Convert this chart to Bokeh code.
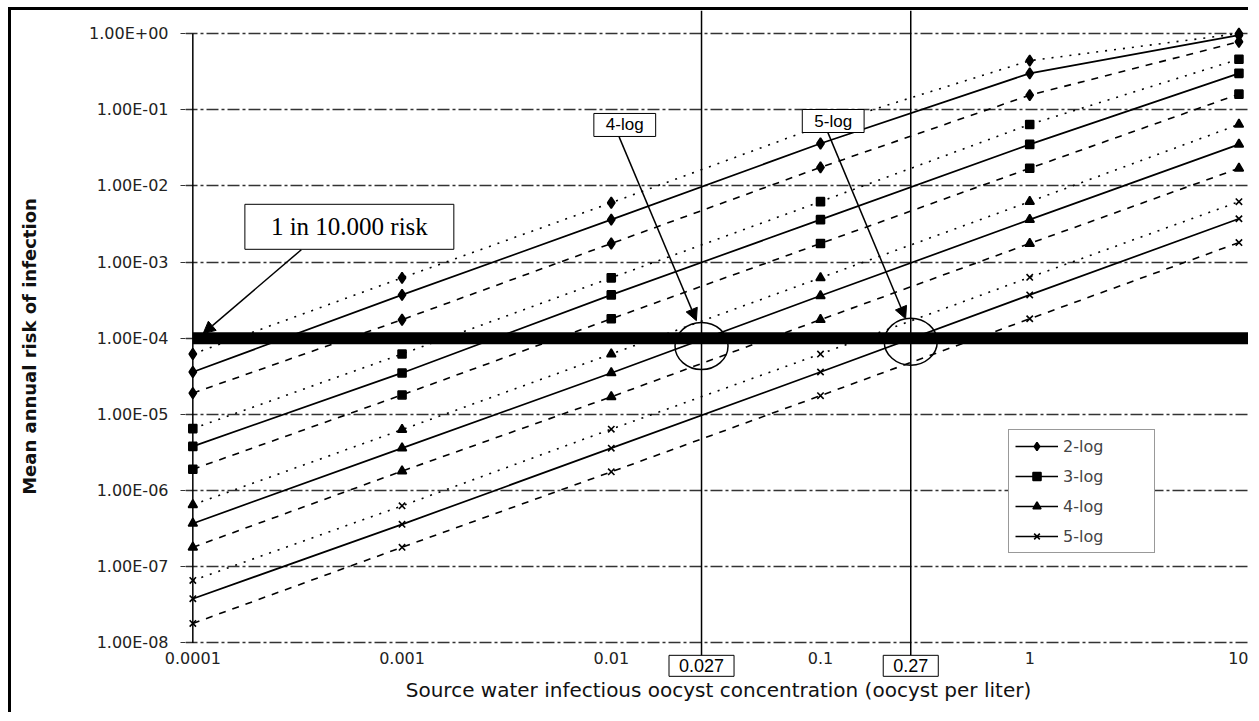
from bokeh.plotting import figure
from bokeh.models import (FixedTicker, CustomJSTickFormatter, Label, Arrow, NormalHead,
                          Legend, LegendItem, Range1d)
from bokeh.embed import file_html
from bokeh.resources import INLINE

# ---------------- data ----------------
conc = [0.0001, 0.001, 0.01, 0.1, 1, 10]          # oocyst per liter
series_names = ["2-log", "3-log", "4-log", "5-log"]

log2_upper = [6.2e-5, 6.2e-4, 6.0e-3, 6.1e-2, 0.44, 0.998]
log2_mean  = [3.6e-5, 3.7e-4, 3.6e-3, 3.6e-2, 0.30, 0.95]
log2_lower = [1.9e-5, 1.75e-4, 1.75e-3, 1.75e-2, 0.155, 0.78]

log3_upper = [6.5e-6, 6.2e-5, 6.2e-4, 6.2e-3, 6.4e-2, 0.46]
log3_mean  = [3.8e-6, 3.5e-5, 3.7e-4, 3.6e-3, 3.5e-2, 0.30]
log3_lower = [1.9e-6, 1.8e-5, 1.8e-4, 1.75e-3, 1.7e-2, 0.16]

log4_upper = [6.5e-7, 6.3e-6, 6.2e-5, 6.2e-4, 6.2e-3, 6.4e-2]
log4_mean  = [3.7e-7, 3.6e-6, 3.5e-5, 3.6e-4, 3.6e-3, 3.5e-2]
log4_lower = [1.8e-7, 1.8e-6, 1.7e-5, 1.75e-4, 1.75e-3, 1.7e-2]

log5_upper = [6.6e-8, 6.3e-7, 6.4e-6, 6.2e-5, 6.3e-4, 6.2e-3]
log5_mean  = [3.8e-8, 3.6e-7, 3.6e-6, 3.6e-5, 3.7e-4, 3.7e-3]
log5_lower = [1.8e-8, 1.8e-7, 1.76e-6, 1.76e-5, 1.8e-4, 1.8e-3]

x_ticks = [0.0001, 0.001, 0.01, 0.1, 1, 10]
x_tick_labels = ["0.0001", "0.001", "0.01", "0.1", "1", "10"]
y_ticks = [1.0, 0.1, 0.01, 0.001, 0.0001, 1e-05, 1e-06, 1e-07, 1e-08]
y_tick_labels = ["1.00E+00", "1.00E-01", "1.00E-02", "1.00E-03", "1.00E-04",
                 "1.00E-05", "1.00E-06", "1.00E-07", "1.00E-08"]

risk_threshold = 1e-4
threshold_label = "1 in 10.000 risk"
crossing_conc = [0.027, 0.27]
crossing_labels = ["0.027", "0.27"]
crossing_names = ["4-log", "5-log"]

groups = [
    (log2_upper, log2_mean, log2_lower, "diamond", 11),
    (log3_upper, log3_mean, log3_lower, "square", 8),
    (log4_upper, log4_mean, log4_lower, "triangle", 9),
    (log5_upper, log5_mean, log5_lower, "x", 9),
]

# ---------------- figure ----------------
p = figure(width=1240, height=705, x_axis_type="log", y_axis_type="log",
           x_range=Range1d(10 ** -4.035, 10 ** 1.06),
           y_range=Range1d(10 ** -8.52, 10 ** 0.302),
           output_backend="svg", toolbar_location=None,
           min_border_left=174, min_border_right=0, min_border_top=0,
           min_border_bottom=33)
p.styles = {"margin-left": "8px", "margin-top": "7px",
            "border-top": "3px solid black", "border-left": "3px solid black"}
p.outline_line_color = None
p.background_fill_color = "white"
p.border_fill_color = "white"

JS_PICK = """
let best = 0, bd = Infinity;
for (let i = 0; i < tvals.length; i++) {
  const d = Math.abs(Math.log10(tvals[i]) - Math.log10(tick));
  if (d < bd) { bd = d; best = i; }
}
return tlabels[best];
"""
p.xaxis.ticker = FixedTicker(ticks=x_ticks, minor_ticks=[])
p.yaxis.ticker = FixedTicker(ticks=y_ticks, minor_ticks=[])
p.xaxis.formatter = CustomJSTickFormatter(args=dict(tvals=x_ticks, tlabels=x_tick_labels), code=JS_PICK)
p.yaxis.formatter = CustomJSTickFormatter(args=dict(tvals=y_ticks, tlabels=y_tick_labels), code=JS_PICK)

for ax in (p.xaxis, p.yaxis):
    ax.axis_line_color = None
    ax.minor_tick_line_color = None
    ax.major_label_text_font = "DejaVu Sans"
    ax.major_label_text_font_size = "16px"
    ax.major_label_text_color = "#222222"
    ax.axis_label_text_font = "DejaVu Sans"
    ax.axis_label_text_font_style = "bold"
    ax.axis_label_text_color = "#111111"

p.yaxis.major_tick_out = 5
p.yaxis.major_tick_in = 0
p.yaxis.major_tick_line_color = "#333333"
p.yaxis.major_label_standoff = 12
p.yaxis.axis_label = "Mean annual risk of infection"
p.yaxis.axis_label_text_font_size = "18px"
p.yaxis.axis_label_standoff = 46

p.xaxis.major_tick_line_color = None
p.xaxis.major_tick_out = 0
p.xaxis.major_label_standoff = -31
p.xaxis.axis_label = "Source water infectious oocyst concentration (oocyst per liter)"
p.xaxis.axis_label_text_font_size = "20px"
p.xaxis.axis_label_text_font_style = "normal"
p.xaxis.axis_label_standoff = 11

p.xgrid.grid_line_color = None
p.ygrid.grid_line_color = "#333333"
p.ygrid.grid_line_dash = "12 3 3 3"
p.ygrid.grid_line_width = 1.3

# y axis line drawn at the first concentration
p.segment(x0=[conc[0]], y0=[y_ticks[-1]], x1=[conc[0]], y1=[y_ticks[0]],
          line_color="black", line_width=1.5)

legend_items = []
for name, (up, mean, low, marker, msize) in zip(series_names, groups):
    r_up = p.line(conc, up, line_color="black", line_width=1.6, line_dash="2 7")
    r_mean = p.line(conc, mean, line_color="black", line_width=1.7)
    r_low = p.line(conc, low, line_color="black", line_width=1.6, line_dash="7 7")
    s_up = p.scatter(conc, up, marker=marker, size=msize, fill_color="black", line_color="black", line_width=1.6)
    s_mean = p.scatter(conc, mean, marker=marker, size=msize, fill_color="black", line_color="black", line_width=1.6)
    s_low = p.scatter(conc, low, marker=marker, size=msize, fill_color="black", line_color="black", line_width=1.6)
    legend_items.append(LegendItem(label=name, renderers=[r_mean, s_mean]))

# thick 1-in-10,000 line
p.segment(x0=[conc[0]], y0=[risk_threshold], x1=[p.x_range.end], y1=[risk_threshold],
          line_color="black", line_width=12)

# vertical crossing lines, down to their value boxes
crossing_label_y = 5.0e-9
p.segment(x0=crossing_conc, y0=[crossing_label_y] * 2, x1=crossing_conc, y1=[p.y_range.end] * 2,
          line_color="black", line_width=1.5)

# circles around the crossings
p.ellipse(x=crossing_conc, y=[7.9e-5, 9.0e-5], width=53, height=47,
          width_units="screen", height_units="screen",
          fill_color=None, line_color="black", line_width=1.5)

# annotations (padding is (horizontal, vertical))
p.add_layout(Label(x=5.6e-4, y=2.9e-3, text=threshold_label, text_font="Liberation Serif",
                   text_font_size="25px", text_align="center", text_baseline="middle",
                   text_color="black", border_line_color="black", border_line_width=1,
                   background_fill_color="white", padding=(26, 9)))
p.add_layout(Arrow(x_start=3.3e-4, y_start=1.45e-3, x_end=1.12e-4, y_end=1.15e-4,
                   line_color="black", line_width=1.5,
                   end=NormalHead(size=12, fill_color="black", line_color="black")))

for name, cx, lx, ly, ax0, ay0, ay1 in zip(crossing_names, crossing_conc,
                                             [0.0116, 0.115], [0.063, 0.071],
                                             [0.0109, 0.1085], [0.044, 0.050],
                                             [1.7e-4, 1.8e-4]):
    p.add_layout(Label(x=lx, y=ly, text=name, text_font="Liberation Sans",
                       text_font_size="17px", text_align="center", text_baseline="middle",
                       text_color="black", border_line_color="black", border_line_width=1,
                       background_fill_color="white", padding=(12, 2)))
    p.add_layout(Arrow(x_start=ax0, y_start=ay0, x_end=cx * 0.945, y_end=ay1,
                       line_color="black", line_width=1.5,
                       end=NormalHead(size=12, fill_color="black", line_color="black")))

for cx, txt in zip(crossing_conc, crossing_labels):
    p.add_layout(Label(x=cx, y=crossing_label_y, text=txt, text_font="Liberation Sans",
                       text_font_size="18px", text_align="center", text_baseline="middle",
                       text_color="black", border_line_color="black", border_line_width=1,
                       background_fill_color="white", padding=(10, 4)))

legend = Legend(items=legend_items, location=(823, 129), orientation="vertical",
                border_line_color="#333333", border_line_width=1.5,
                background_fill_color="white", background_fill_alpha=1.0,
                padding=6, spacing=10, margin=0,
                glyph_width=43, glyph_height=20, label_height=20, label_standoff=5,
                label_width=85, label_text_font="DejaVu Sans", label_text_font_size="16px")
p.add_layout(legend)

open("out.html", "w").write(file_html(p, INLINE))
